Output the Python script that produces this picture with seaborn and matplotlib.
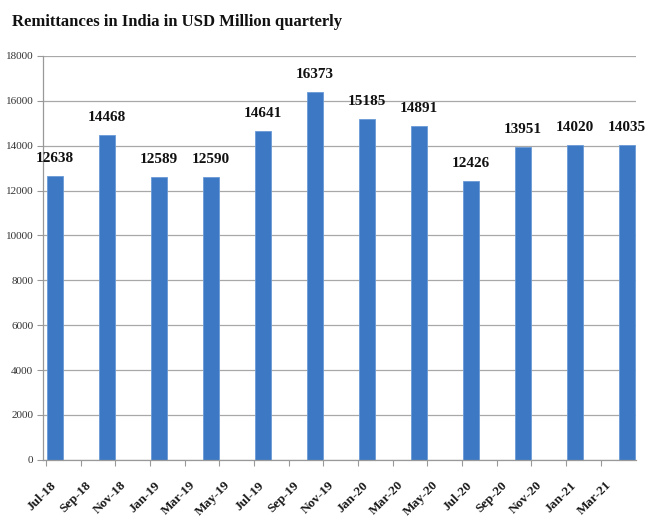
import numpy as np
import matplotlib
matplotlib.use("Agg")
import matplotlib.pyplot as plt
import seaborn as sns

# quarterly remittances, USD million
bar_values = [12638, 14468, 12589, 12590, 14641, 16373,
              15185, 14891, 12426, 13951, 14020, 14035]
# axis labels every two months
month_labels = ["Jul-18", "Sep-18", "Nov-18", "Jan-19", "Mar-19", "May-19",
                "Jul-19", "Sep-19", "Nov-19", "Jan-20", "Mar-20", "May-20",
                "Jul-20", "Sep-20", "Nov-20", "Jan-21", "Mar-21"]
y_ticks = [0, 2000, 4000, 6000, 8000, 10000, 12000, 14000, 16000, 18000]

sns.set_theme(style="white")
plt.rcParams['font.family'] = ['Liberation Serif', 'DejaVu Serif']

# months since Jul-18, bars fill the month slot
bar_pos = np.arange(len(bar_values)) * 3 + 0.5
tick_pos = np.arange(len(month_labels)) * 2

fig = plt.figure(figsize=(6.47, 5.22), dpi=100)
ax = fig.add_axes([0.0665, 0.119, 0.917, 0.774])

sns.barplot(x=bar_pos, y=bar_values, native_scale=True, width=0.31,
            color="#3c78c3", saturation=1, edgecolor="#6a9ad6", linewidth=0.6, ax=ax)

for x, v in zip(bar_pos, bar_values):
    ax.annotate(str(v), (x, v), xytext=(0, 8), textcoords="offset points",
                ha="center", va="bottom", fontsize=11, fontweight="bold", color="#111111")

ax.set_xlim(-0.17, 34.05)
ax.set_ylim(0, 18000)
ax.set_yticks(y_ticks)
ax.set_yticklabels([str(t) for t in y_ticks], fontsize=8, color="#333333")
ax.yaxis.grid(True, color="#a8a8a8", linewidth=0.9)
ax.set_axisbelow(True)

ax.set_xticks(tick_pos)
ax.set_xticklabels([])
ax.set_xticks(tick_pos + 0.5, minor=True)
ax.set_xticklabels(month_labels, minor=True, rotation=45, ha="right", va="center",
                   rotation_mode="anchor", fontsize=9.5, fontweight="bold", color="#1a1a1a")
ax.tick_params(axis="x", which="major", length=4, width=0.8, color="#999999", bottom=True)
ax.tick_params(axis="x", which="minor", length=0, pad=17, bottom=True)
ax.tick_params(axis="y", length=4, width=0.8, color="#999999", left=True, pad=3)

for s in ["top", "right"]:
    ax.spines[s].set_visible(False)
for s in ["left", "bottom"]:
    ax.spines[s].set_color("#999999")
    ax.spines[s].set_linewidth(0.9)
ax.set_xlabel("")
ax.set_ylabel("")

fig.text(0.018, 0.958, "Remittances in India in USD Million quarterly",
         fontsize=12, fontweight="bold", ha="left", va="center", color="#111111")

fig.savefig("out.png", dpi=100)
